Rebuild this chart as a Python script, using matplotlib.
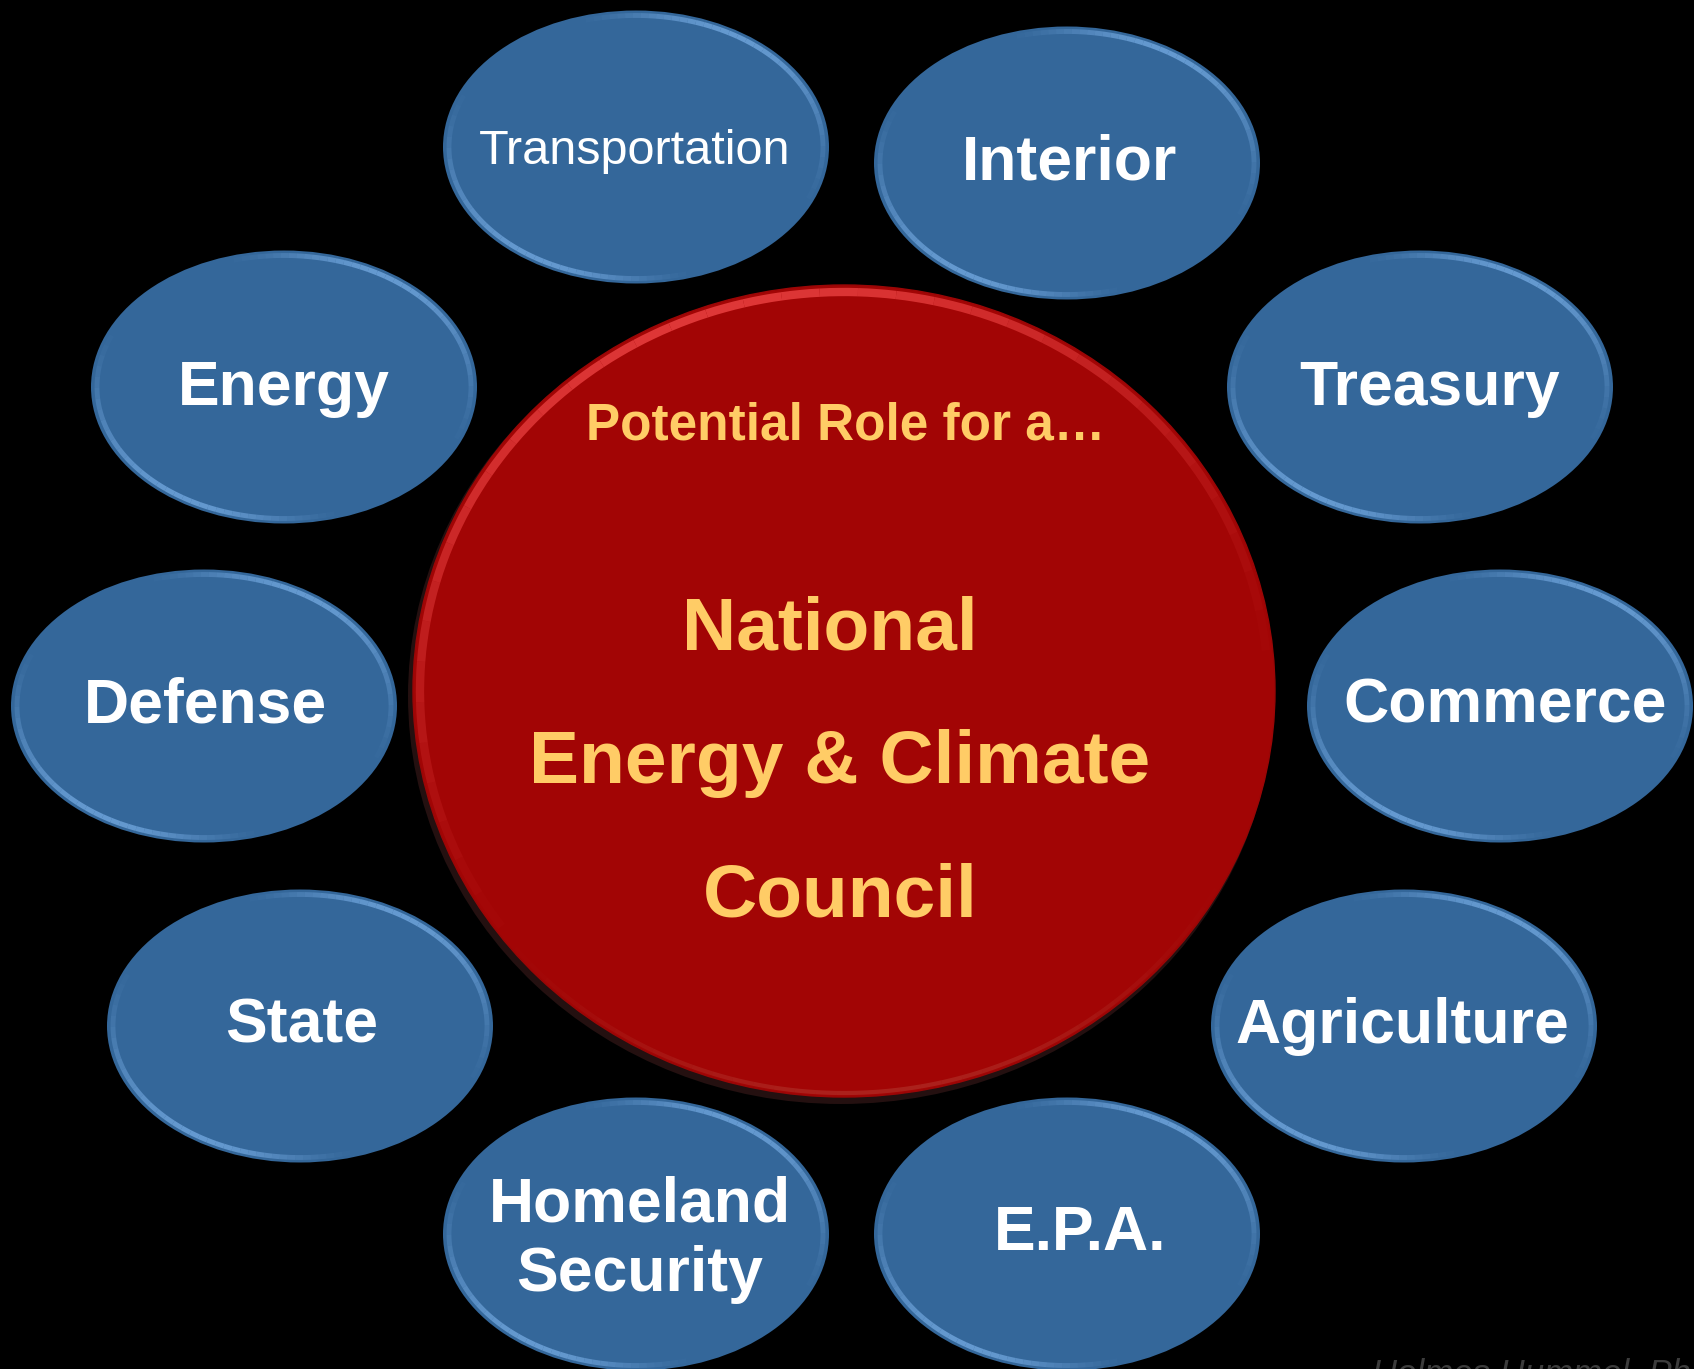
import numpy as np
import matplotlib
matplotlib.use("Agg")
import matplotlib.pyplot as plt
from matplotlib.patches import Ellipse, Arc

# departments around the council
departments = ["Transportation", "Interior", "Energy", "Treasury", "Defense",
               "Commerce", "State", "Agriculture", "Homeland\nSecurity", "E.P.A."]
label_weight = ["normal"] + ["bold"] * 9

center_lines = ["National", "Energy & Climate", "Council"]
center_intro = "Potential Role for a\u2026"
credit = "Holmes Hummel, Ph.D."

# layout (pixel coordinates of the 1694x1369 canvas)
ell_xy = [(636, 147), (1067, 163), (284, 387), (1420, 387), (204, 706),
          (1500, 706), (300, 1026), (1404, 1026), (636, 1234), (1067, 1234)]
txt_xy = [(635, 152), (1070, 163), (284, 388), (1430, 388), (205, 706),
          (1505, 706), (302, 1026), (1402, 1026), (640, 1240), (1080, 1233)]
ell_w, ell_h = 386, 273

BLUE = "#34679A"
BLUE_HI = "#6EA3DA"
RED = "#A20505"
RED_HI = "#E23A3A"
GOLD = "#FFCC66"

plt.rcParams["font.family"] = ["Liberation Sans", "DejaVu Sans"]


def rim(ax, cx, cy, w, h, a0, a1, color, lw, peak, z):
    """Soft bevel rim: arc pieces fading out at both ends (screen angles)."""
    n = 40
    edges = np.linspace(a0, a1, n + 1)
    for i in range(n):
        t = (i + 0.5) / n
        alpha = peak * np.sin(np.pi * t) ** 1.5
        # y axis is inverted, so screen angles are negated
        ax.add_patch(Arc((cx, cy), w, h, theta1=-edges[i + 1], theta2=-edges[i],
                         color=color, lw=lw, alpha=alpha, zorder=z,
                         capstyle="butt"))


fig = plt.figure(figsize=(16.94, 13.69), dpi=100, facecolor="black")
ax = fig.add_axes([0, 0, 1, 1])
ax.set_xlim(0, 1694)
ax.set_ylim(1369, 0)
ax.set_aspect("equal")
ax.axis("off")
ax.set_facecolor("black")

# blue department ellipses with a soft bevel rim
for (cx, cy) in ell_xy:
    ax.add_patch(Ellipse((cx, cy), ell_w, ell_h, facecolor=BLUE,
                         edgecolor="none", zorder=2))
    rim(ax, cx, cy, ell_w - 12, ell_h - 10, -20, 115, BLUE_HI, 3.5, 0.85, 3)
    rim(ax, cx, cy, ell_w - 12, ell_h - 10, 160, 295, BLUE_HI, 3.5, 0.85, 3)

for (tx, ty), name, w in zip(txt_xy, departments, label_weight):
    size = 35 if w == "normal" else 45
    ax.text(tx, ty, name, color="white", fontsize=size, fontweight=w,
            ha="center", va="center", linespacing=1.22, zorder=6)

# central council circle
ccx, ccy, cw, ch = 844, 691, 862, 812
ax.add_patch(Ellipse((ccx - 3, ccy + 5), cw + 4, ch + 4, facecolor="#241010",
                     edgecolor="none", zorder=3))
ax.add_patch(Ellipse((ccx, ccy), cw, ch, facecolor=RED,
                     edgecolor="#9a0606", lw=1.0, zorder=4))
rim(ax, ccx, ccy, cw - 14, ch - 14, 0, 220, RED_HI, 6, 0.95, 5)
rim(ax, ccx, ccy, cw - 8, ch - 8, 215, 335, "#b8453a", 3, 0.45, 5)

ax.text(846, 426, center_intro, color=GOLD, fontsize=37, fontweight="bold",
        ha="center", va="center", zorder=6)
for line, ly, lx in zip(center_lines, [630, 763, 897], [830, 840, 840]):
    ax.text(lx, ly, line, color=GOLD, fontsize=54, fontweight="bold",
            ha="center", va="center", zorder=6)

ax.text(1372, 1358, credit, color="#3c3c3c", fontsize=25, style="italic",
        ha="left", va="top", zorder=6)

fig.savefig("out.png", dpi=100, facecolor="black")
